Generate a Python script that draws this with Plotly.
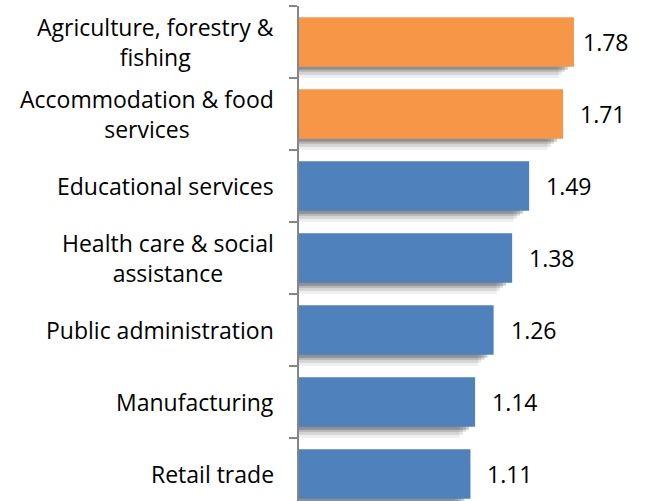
import plotly.graph_objects as go

categories = [
    "Agriculture, forestry &<br>fishing",
    "Accommodation & food<br>services",
    "Educational services",
    "Health care & social<br>assistance",
    "Public administration",
    "Manufacturing",
    "Retail trade",
]
values = [1.78, 1.71, 1.49, 1.38, 1.26, 1.14, 1.11]
highlight = [True, True, False, False, False, False, False]

ORANGE = "#F79646"
BLUE = "#4F81BD"
colors = [ORANGE if h else BLUE for h in highlight]

FONT = "Open Sans"
FS = 23
W = 0.69          # bar thickness in category units
PX = 1 / 72.0     # one pixel in category units (approx)

fig = go.Figure()

# soft drop shadow layers (drawn beneath bars)
for drop, shorten, alpha in [(11, 0.10, 0.07), (8, 0.08, 0.10), (5, 0.06, 0.15), (3, 0.04, 0.20)]:
    fig.add_trace(go.Bar(
        y=categories, x=[v - shorten for v in values], orientation="h",
        width=W, offset=-W / 2 + drop * PX,
        marker=dict(color=f"rgba(0,0,0,{alpha})", line=dict(width=0)),
        hoverinfo="skip", showlegend=False,
    ))

fig.add_trace(go.Bar(
    y=categories, x=values, orientation="h",
    width=W, offset=-W / 2,
    marker=dict(color=colors, line=dict(width=0)),
    showlegend=False,
))

annotations = []
for i, (c, v) in enumerate(zip(categories, values)):
    annotations.append(dict(
        x=0, y=c, xref="x", yref="y", text=c, showarrow=False,
        xanchor="right", yanchor="middle", align="center", xshift=-23,
        font=dict(family=FONT, size=FS, color="#000000"),
    ))
    annotations.append(dict(
        x=v, y=c, xref="x", yref="y", text=f"{v:.2f}", showarrow=False,
        xanchor="left", yanchor="middle", xshift=7 if i == 0 else 15,
        font=dict(family=FONT, size=FS, color="#000000"),
    ))

fig.update_layout(
    width=645, height=501,
    margin=dict(l=299, r=0, t=6, b=0),
    paper_bgcolor="white", plot_bgcolor="white",
    barmode="overlay",
    annotations=annotations,
    font=dict(family=FONT, size=FS, color="#000000"),
    xaxis=dict(range=[0, 2.24], visible=False, fixedrange=True),
    yaxis=dict(
        type="category", range=[6.375, -0.5],
        showline=True, linecolor="#868686", linewidth=2,
        ticks="outside", ticklen=8, tickcolor="#868686", tickwidth=2,
        tickson="boundaries", showticklabels=False, showgrid=False,
        zeroline=False, fixedrange=True,
    ),
)

fig.write_html("out.html")
